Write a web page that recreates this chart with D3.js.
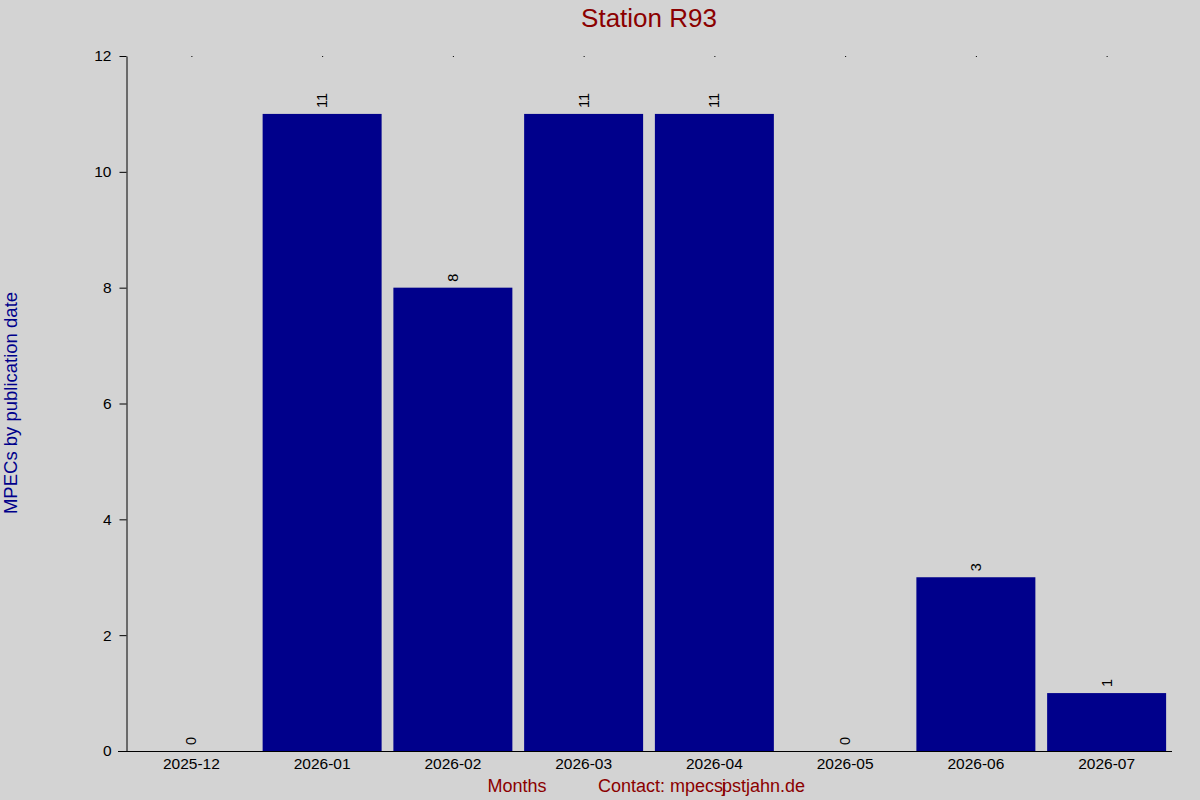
<!DOCTYPE html>
<html>
<head>
<meta charset="utf-8">
<script src="https://cdn.jsdelivr.net/npm/d3@7"></script>
<style>
  body { margin: 0; background: #d3d3d3; }
  svg { display: block; font-family: "Liberation Sans", Arial, sans-serif; }
</style>
</head>
<body>
<div id="chart"></div>
<script>
// data
const months = ["2025-12", "2026-01", "2026-02", "2026-03", "2026-04", "2026-05", "2026-06", "2026-07"];
const counts = [0, 11, 8, 11, 11, 0, 3, 1];
const yTicks = [0, 2, 4, 6, 8, 10, 12];

const width = 1200, height = 800;
const margin = {top: 56, right: 28, bottom: 49, left: 126};

const svg = d3.select("#chart").append("svg")
    .attr("width", width)
    .attr("height", height);

svg.append("rect").attr("width", width).attr("height", height).attr("fill", "#d3d3d3");

const xScale = d3.scaleBand()
    .domain(months)
    .range([margin.left, width - margin.right])
    .paddingInner(0.09)
    .paddingOuter(0.045);

const yScale = d3.scaleLinear()
    .domain([0, 12])
    .range([height - margin.bottom, margin.top]);

const data = months.map((m, i) => ({month: m, value: counts[i]}));

// bars
svg.append("g")
    .selectAll("rect")
    .data(data)
    .join("rect")
        .attr("x", d => xScale(d.month))
        .attr("y", d => yScale(d.value))
        .attr("width", xScale.bandwidth())
        .attr("height", d => yScale(0) - yScale(d.value))
        .attr("fill", "#00008b");

// value labels, rotated
svg.append("g")
    .selectAll("text")
    .data(data)
    .join("text")
        .attr("transform", d => `translate(${xScale(d.month) + xScale.bandwidth() / 2 + 5},${yScale(d.value) - 6}) rotate(-90)`)
        .attr("font-size", 14.5)
        .attr("fill", "#000")
        .text(d => d.value);

// small marks at the top of each band
svg.append("g")
    .selectAll("rect")
    .data(months)
    .join("rect")
        .attr("x", d => xScale(d) + xScale.bandwidth() / 2)
        .attr("y", margin.top)
        .attr("width", 1)
        .attr("height", 1)
        .attr("fill", "#000");

// y axis
const yAxis = d3.axisLeft(yScale).tickValues(yTicks).tickSize(7).tickPadding(8).tickSizeOuter(0);
const yAxisGroup = svg.append("g")
    .attr("transform", `translate(${margin.left + 0.5},0)`)
    .call(yAxis);
yAxisGroup.selectAll("text").attr("font-size", 15.5).attr("font-family", "Liberation Sans, Arial, sans-serif").attr("fill", "#000");
yAxisGroup.selectAll("line, path").attr("stroke", "#000");

// x axis
const xAxis = d3.axisBottom(xScale).tickSize(0).tickPadding(6).tickSizeOuter(0);
const xAxisGroup = svg.append("g")
    .attr("transform", `translate(0,${yScale(0) + 0.5})`)
    .call(xAxis);
xAxisGroup.select(".domain").remove();
xAxisGroup.selectAll("text").attr("font-size", 15.5).attr("font-family", "Liberation Sans, Arial, sans-serif").attr("fill", "#000");
xAxisGroup.append("line")
    .attr("x1", margin.left - 8)
    .attr("x2", width - margin.right)
    .attr("stroke", "#000");

// title
svg.append("text")
    .attr("x", 649)
    .attr("y", 27)
    .attr("text-anchor", "middle")
    .attr("font-size", 26)
    .attr("fill", "#8b0000")
    .text("Station R93");

// y label
svg.append("text")
    .attr("transform", `translate(17,403) rotate(-90)`)
    .attr("text-anchor", "middle")
    .attr("font-size", 18.5)
    .attr("fill", "#00008b")
    .text("MPECs by publication date");

// x label and contact
svg.append("text")
    .attr("x", 517)
    .attr("y", 792)
    .attr("text-anchor", "middle")
    .attr("font-size", 18)
    .attr("fill", "#8b0000")
    .text("Months");

// the address glyphs overlap in the original
const contact = svg.append("text")
    .attr("x", 598)
    .attr("y", 792)
    .attr("font-size", 18)
    .attr("fill", "#8b0000");
contact.append("tspan").text("Contact: mpecs");
contact.append("tspan").attr("dx", -1).text("j");
contact.append("tspan").attr("dx", -4).text("pstjahn.de");
</script>
</body>
</html>
